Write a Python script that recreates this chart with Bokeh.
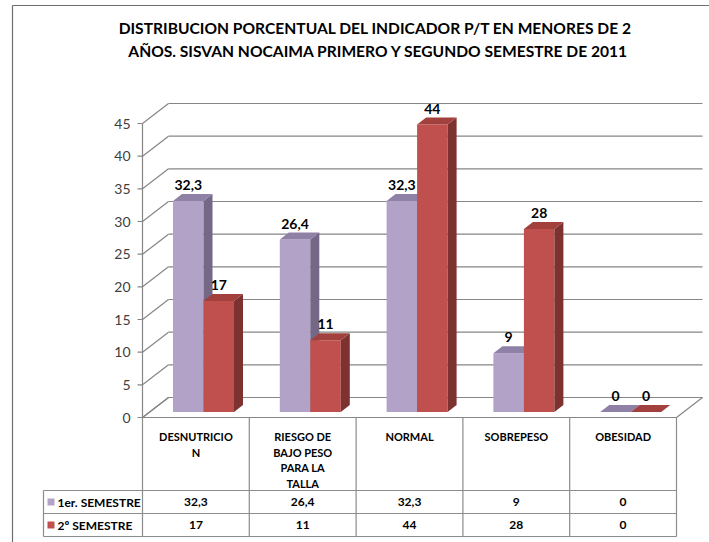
from bokeh.plotting import figure
from bokeh.models import Range1d
from bokeh.core.properties import value
from bokeh.embed import file_html
from bokeh.resources import INLINE

# ---------------- data ----------------
categories = ["DESNUTRICION", "RIESGO DE BAJO PESO PARA LA TALLA", "NORMAL", "SOBREPESO", "OBESIDAD"]
category_lines = [["DESNUTRICIO", "N"], ["RIESGO DE", "BAJO PESO", "PARA LA", "TALLA"],
                  ["NORMAL"], ["SOBREPESO"], ["OBESIDAD"]]
series_names = ["1er. SEMESTRE", "2º SEMESTRE"]
sem1 = [32.3, 26.4, 32.3, 9, 0]
sem2 = [17, 11, 44, 28, 0]
y_ticks = [0, 5, 10, 15, 20, 25, 30, 35, 40, 45]
title_lines = ["DISTRIBUCION PORCENTUAL DEL INDICADOR P/T EN MENORES DE 2",
               "AÑOS. SISVAN NOCAIMA  PRIMERO Y SEGUNDO SEMESTRE DE 2011"]

# ---------------- styling ----------------
FONT = value("Lato")
GRID = "#868686"
FACE = ["#B3A2C7", "#C0504D"]
TOP = ["#8F81A5", "#A2403D"]
SIDE = ["#746886", "#7E3230"]

W, H, M = 709, 542, 0
SX = 106.8            # px per category
SY = 294.0 / 45.0     # px per value unit
X0, Y0 = 142.0, 417.0  # image px of origin (front-left floor corner)


def dx(px):
    return (px - X0) / SX


def dy(py):
    return (Y0 - py) / SY


DEPTH_X, DEPTH_Y = 26 / SX, 20 / SY
BDX, BDY = 9 / SX, 7 / SY
n = len(categories)

p = figure(width=W, height=H, output_backend="svg", toolbar_location=None,
           x_range=Range1d(dx(M), dx(M + W)), y_range=Range1d(dy(M + H), dy(M)),
           min_border=0, outline_line_color=None)
p.axis.visible = False
p.grid.visible = False
p.background_fill_color = "white"
p.border_fill_color = "white"

# floor
p.patch([0, n, n + DEPTH_X, DEPTH_X], [0, 0, DEPTH_Y, DEPTH_Y],
        fill_color="white", line_color=GRID, line_width=1.2)

# back wall gridlines & left wall diagonals
p.segment(x0=[DEPTH_X] * len(y_ticks), y0=[v + DEPTH_Y for v in y_ticks],
          x1=[n + DEPTH_X] * len(y_ticks), y1=[v + DEPTH_Y for v in y_ticks],
          line_color=GRID, line_width=1.2)
p.segment(x0=[0] * len(y_ticks), y0=y_ticks,
          x1=[DEPTH_X] * len(y_ticks), y1=[v + DEPTH_Y for v in y_ticks],
          line_color=GRID, line_width=1.2)
# axis line & ticks
p.segment(x0=[0], y0=[0], x1=[0], y1=[max(y_ticks)], line_color=GRID, line_width=1.2)
p.segment(x0=[dx(137)] * len(y_ticks), y0=y_ticks, x1=[0] * len(y_ticks), y1=y_ticks,
          line_color=GRID, line_width=1.2)
p.text(x=[dx(130)] * len(y_ticks), y=y_ticks, text=[str(v) for v in y_ticks],
       text_font=FONT, text_font_size="14px", text_color="#404040",
       text_align="right", text_baseline="middle")

# bars
base = 5.5 / SY
off = 30.5 / SX
bw = 30.5 / SX
lab_x, lab_y, lab_t = [], [], []
for i in range(n):
    for s, vals in enumerate([sem1, sem2]):
        v = vals[i]
        l = i + off + s * bw
        r = l + bw
        b = base
        t = base + v
        if v > 0:
            p.patch([l, r, r, l], [b, b, t, t], fill_color=FACE[s], line_color=None)
            p.patch([r, r + BDX, r + BDX, r], [b, b + BDY, t + BDY, t],
                    fill_color=SIDE[s], line_color=None)
        p.patch([l, r, r + BDX, l + BDX], [t, t, t + BDY, t + BDY],
                fill_color=TOP[s], line_color=None)
        lab_x.append((l + r) / 2)
        lab_y.append(t + 16 / SY)
        lab_t.append(("%g" % v).replace(".", ","))

p.text(x=lab_x, y=lab_y, text=lab_t, text_font=FONT, text_font_size="14px",
       text_font_style="bold", text_color="black", text_align="center",
       text_baseline="middle")

# title
p.text(x=[dx(375), dx(380)], y=[dy(27), dy(50)], text=title_lines,
       text_font=FONT, text_font_size="15.6px", text_font_style="bold",
       text_color="black", text_align="center", text_baseline="middle")

# border of the chart area (left and top)
p.segment(x0=[dx(12), dx(12)], y0=[dy(5), dy(5)], x1=[dx(12), dx(W)], y1=[dy(H), dy(5)],
          line_color="#6E6E6E", line_width=1.2)

# ---------------- data table ----------------
TB = "#8C8C8C"
row_lines = [490, 513, 536]
leg_left = 43
# horizontal lines
p.segment(x0=[dx(leg_left)] * 3, y0=[dy(y) for y in row_lines],
          x1=[n] * 3, y1=[dy(y) for y in row_lines], line_color=TB, line_width=1.2)
# vertical lines
vx = list(range(n + 1))
p.segment(x0=vx, y0=[0] * len(vx), x1=vx, y1=[dy(row_lines[-1])] * len(vx),
          line_color=TB, line_width=1.2)
p.segment(x0=[dx(leg_left)], y0=[dy(row_lines[0])], x1=[dx(leg_left)],
          y1=[dy(row_lines[-1])], line_color=TB, line_width=1.2)

hx, hy, ht = [], [], []
for i, lines in enumerate(category_lines):
    for k, ln in enumerate(lines):
        hx.append(i + 0.5)
        hy.append(dy(436 + 15.6 * k))
        ht.append(ln)
p.text(x=hx, y=hy, text=ht, text_font=FONT, text_font_size="11px",
       text_font_style="bold", text_color="black", text_align="center",
       text_baseline="middle")

row_centers = [501.5, 524.5]
tx, ty, tt = [], [], []
for s, vals in enumerate([sem1, sem2]):
    for i, v in enumerate(vals):
        tx.append(i + 0.5)
        ty.append(dy(row_centers[s]))
        tt.append(("%g" % v).replace(".", ","))
p.text(x=tx, y=ty, text=tt, text_font=FONT, text_font_size="12px",
       text_font_style="bold", text_color="black", text_align="center",
       text_baseline="middle")

# legend keys in table
for s in range(2):
    yc = row_centers[s]
    p.patch([dx(47), dx(54), dx(54), dx(47)], [dy(yc + 3.5), dy(yc + 3.5), dy(yc - 3.5), dy(yc - 3.5)],
            fill_color=FACE[s], line_color=None)
p.text(x=[dx(57), dx(57)], y=[dy(c) for c in row_centers], text=series_names,
       text_font=FONT, text_font_size="12px", text_font_style="bold",
       text_color="black", text_align="left", text_baseline="middle")

open("out.html", "w").write(file_html(p, INLINE))
